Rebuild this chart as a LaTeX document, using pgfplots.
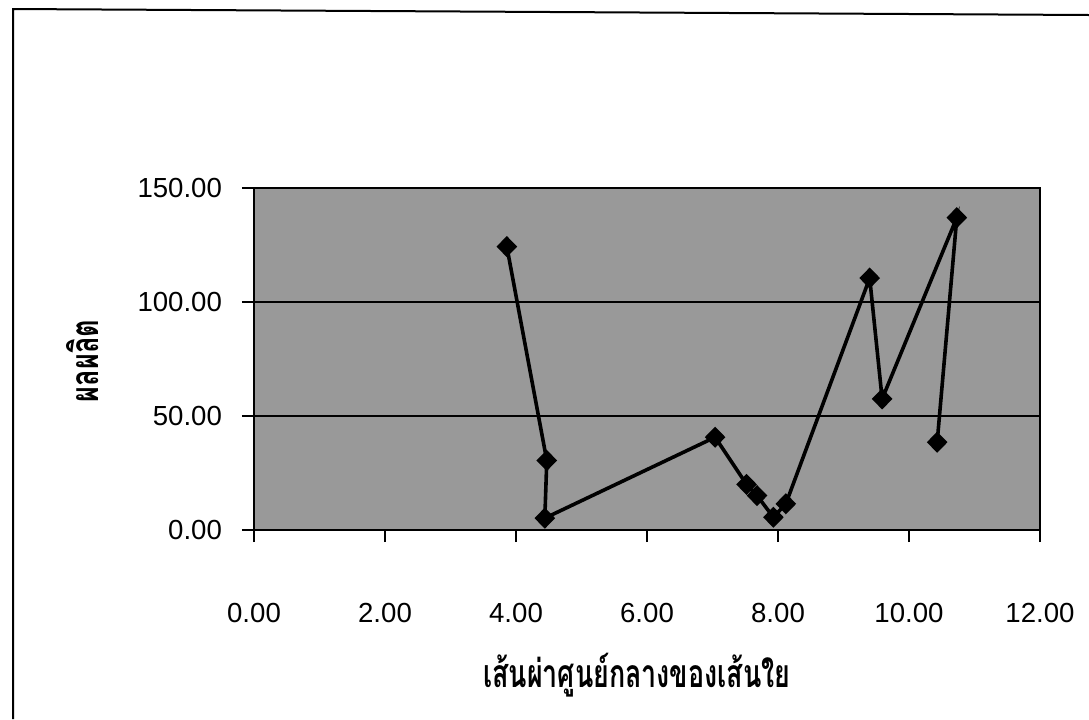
\documentclass[border=0pt]{standalone}
\usepackage{pgfplots}
\pgfplotsset{compat=1.18}
\usepackage{fontspec}
\setmainfont{Liberation Sans}
\newfontfamily\thaifont[Script=Thai]{Loma}
\begin{document}
\begin{tikzpicture}
\path[use as bounding box] (0,0) rectangle (544.5pt,-359.5pt);
\begin{axis}[
  at={(127pt,-265pt)}, anchor=south west,
  scale only axis, width=393pt, height=171pt,
  xmin=0, xmax=12, ymin=0, ymax=150,
  xtick={0,2,4,6,8,10,12}, ytick={0,50,100,150},
  xtick pos=left, ytick pos=left,
  axis background/.style={fill=black!40},
  ymajorgrids, grid style={black, line width=0.6pt},
  tick align=outside, major tick length=6pt,
  tick style={black, line width=0.6pt},
  axis line style={black, line width=0.8pt},
  /pgf/number format/assume math mode=true,
  /pgf/number format/.cd, fixed, fixed zerofill, precision=2, /pgfplots/.cd,
  ticklabel style={font=\fontsize{13.8}{16}\selectfont},
  xticklabel shift=27pt,
  yticklabel shift=6.5pt,
  xlabel={\scalebox{0.79}[1.15]{\thaifont\bfseries เส้นผ่าศูนย์กลางของเส้นใย}},
  ylabel={\scalebox{0.8}[1.15]{\thaifont\bfseries ผลผลิต}},
  label style={font=\fontsize{17}{20}\selectfont},
  xlabel style={at={(axis description cs:0.487,-0.424)}, anchor=center},
  ylabel style={at={(axis description cs:-0.218,0.494)}, anchor=center, rotate=0},
]
\addplot[black, line width=1.8pt, mark=diamond*, mark size=4pt,
  mark options={solid, fill=black, xscale=1.3}] coordinates {
  (3.86,124.3) (4.47,30.5) (4.44,5.2) (7.04,40.7) (7.52,20.0) (7.68,15.1)
  (7.93,5.6) (8.12,11.5) (9.40,110.5) (9.59,57.5) (10.73,137.0) (10.43,38.5)
};
\end{axis}
\begin{scope}[x=0.5pt, y=-0.5pt]
\draw[black, line width=1pt] (13,719) -- (13,9) -- (1089,15);
\end{scope}
\end{tikzpicture}
\end{document}
